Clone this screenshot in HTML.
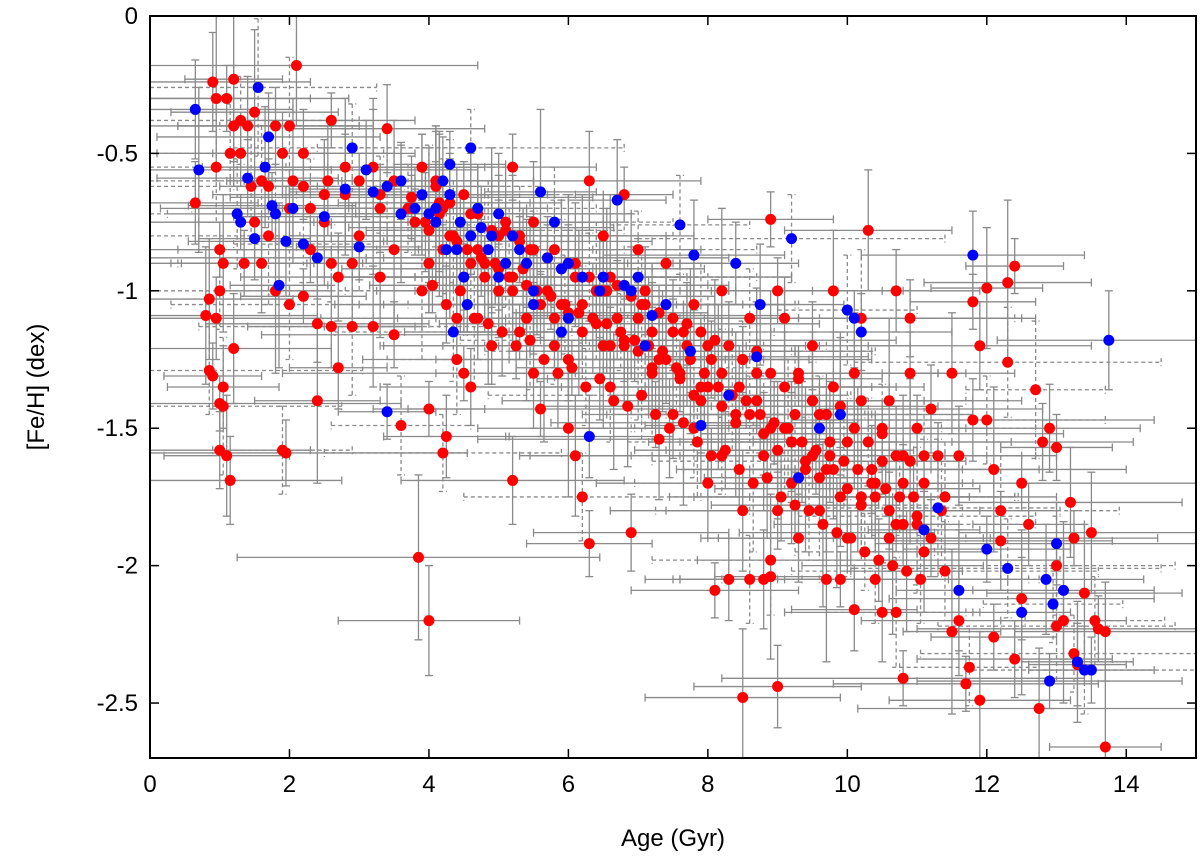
<!DOCTYPE html>
<html><head><meta charset="utf-8"><style>
html,body{margin:0;padding:0;background:#fff;}
svg{display:block;font-family:"Liberation Sans",sans-serif;}
</style></head><body>
<svg id="chart" width="1200" height="860">
<g id="errs"></g>
<g id="red"></g>
<g id="blue"></g>
<g id="axes"></g>
</svg>
<script>
const xTicks=[0,2,4,6,8,10,12,14];
const yTicks=[0,-0.5,-1,-1.5,-2,-2.5];
const yTickLabels=["0","-0.5","-1","-1.5","-2","-2.5"];
const redAge=[0.65,0.8,0.85,0.85,0.9,0.9,0.95,0.95,1.0,1.0,1.05,1.05,1.1,1.15,1.1,1.15,1.2,1.2,1.0,1.0,0.95,1.05,1.2,1.3,1.35,1.4,1.5,1.6,1.7,1.8,1.9,2.0,2.1,2.2,2.2,2.3,2.4,2.5,2.6,2.6,2.7,2.8,2.9,1.9,1.95,1.6,1.8,2.0,2.2,2.4,2.6,2.9,3.2,3.4,3.5,3.6,3.85,4.0,4.0,4.2,4.25,3.2,3.5,3.7,3.9,4.1,4.3,4.4,4.5,4.6,4.7,4.8,5.0,5.2,5.2,5.3,5.4,5.5,5.6,5.8,5.9,6.0,6.1,6.2,6.3,6.3,6.5,6.6,6.8,6.9,7.0,7.2,7.3,7.5,7.6,7.8,7.9,8.0,8.1,8.2,8.3,8.5,8.5,8.6,8.7,8.8,8.9,8.9,8.9,9.0,9.0,9.1,9.2,9.3,9.5,9.6,9.7,9.8,9.9,10.0,10.1,10.2,10.3,10.4,10.5,10.5,10.6,10.7,10.8,10.8,10.9,11.0,11.1,11.2,11.3,11.4,11.5,11.6,11.7,11.75,11.8,11.9,12.0,12.0,12.1,12.2,12.3,12.3,12.4,12.4,12.5,12.7,12.75,12.9,13.0,13.0,13.1,13.2,13.25,13.25,13.3,13.4,13.5,13.55,13.6,13.7,13.7,13.0,11.8,10.9,10.7,10.2,9.8,9.5,9.0,8.6,8.2,7.8,7.4,7.0,6.5,6.0,5.5,5.0,4.5,4.0,3.5,3.0,2.5,2.0,1.5,1.7,2.8,3.3,3.8,4.2,4.7,5.2,5.7,6.2,6.7,7.2,7.7,8.2,8.7,9.2,9.7,10.2,10.7,11.2,6.0,6.4,6.8,7.1,7.5,8.0,8.4,8.8,9.3,9.6,10.0,10.4,10.8,11.1,10.6,9.9,9.4,8.9,5.3,4.9,4.4,3.9,3.3,2.7,2.3,5.8,6.6,7.3,7.9,8.5,9.1,9.5,10.1,10.5,11.0,11.6,12.1,11.4,12.5,12.8,12.6,12.2,11.5,11.9,1.3,1.45,2.05,2.55,3.0,3.3,3.75,4.15,4.6,5.1,5.45,6.1,6.55,7.05,7.65,8.05,8.45,9.25,9.75,10.35,10.95,11.35,
4.0,4.2,4.4,4.6,4.8,5.0,5.2,5.4,5.6,5.8,6.0,6.2,6.4,6.6,6.8,7.0,7.2,7.4,7.6,7.8,8.0,8.2,8.4,8.6,8.8,9.0,9.2,9.4,9.6,9.8,10.0,10.2,10.4,10.6,10.8,11.0,
4.1,4.3,4.5,4.7,4.9,5.1,5.3,5.5,5.7,5.9,6.1,6.3,6.5,6.7,6.9,7.1,7.3,7.5,7.7,7.9,8.1,8.3,8.5,8.7,8.9,9.1,9.3,9.5,9.7,9.9,10.1,10.3,10.5,10.7,10.9,11.1,
4.05,4.25,4.45,4.65,4.85,5.05,5.25,5.45,5.65,5.85,6.05,6.25,6.45,6.65,6.85,7.05,7.25,7.45,7.65,7.85,8.05,8.25,8.45,8.65,8.85,9.05,9.25,9.45,9.65,9.85,10.05,10.25,10.45,10.65,10.85,11.05,
3.75,3.95,4.15,4.35,4.55,4.75,4.95,5.15,5.35,5.55,5.75,5.95,6.15,6.35,6.55,6.75,6.95,7.15,7.35,7.55,7.75,7.95,8.15,8.35,8.55,8.75,8.95,9.15,9.35,9.55,9.75,9.95,10.15,10.35,10.55,10.75];
const redFeh=[-0.68,-1.09,-1.03,-1.29,-1.31,-0.24,-0.3,-0.55,-1.41,-1.58,-1.35,-1.42,-1.6,-1.69,-0.3,-0.5,-0.23,-1.21,-0.85,-1.0,-1.1,-0.9,-0.4,-0.38,-0.9,-0.4,-0.35,-0.6,-0.62,-0.4,-0.5,-0.4,-0.18,-0.5,-0.62,-0.7,-1.4,-0.65,-0.38,-0.9,-1.28,-0.55,-0.9,-1.58,-1.59,-0.9,-1.0,-1.05,-1.02,-1.12,-1.13,-1.13,-1.13,-0.41,-1.16,-1.49,-1.97,-2.2,-1.43,-1.59,-1.53,-0.55,-0.6,-0.7,-0.55,-0.6,-0.8,-1.25,-1.3,-1.35,-1.1,-0.9,-0.8,-1.69,-0.55,-0.8,-1.1,-1.3,-1.43,-1.2,-1.05,-1.5,-1.6,-1.75,-1.92,-0.6,-1.2,-1.35,-0.65,-1.88,-1.1,-1.3,-1.54,-1.45,-1.3,-1.5,-1.4,-1.7,-2.09,-1.6,-2.05,-2.48,-1.8,-2.05,-1.3,-2.05,-2.04,-1.98,-0.74,-1.8,-2.44,-1.5,-1.7,-1.9,-1.6,-1.8,-2.05,-1.35,-2.05,-1.9,-2.16,-1.4,-0.78,-2.05,-1.62,-2.17,-1.4,-2.17,-2.41,-1.7,-1.3,-1.85,-1.95,-1.43,-1.6,-2.02,-2.24,-2.2,-2.43,-2.37,-1.47,-2.49,-0.99,-1.47,-2.26,-1.91,-0.97,-1.26,-0.91,-2.34,-2.12,-1.36,-2.52,-1.5,-1.57,-2.0,-2.2,-1.77,-1.9,-2.32,-2.36,-2.1,-1.88,-2.2,-2.23,-2.24,-2.66,-2.22,-1.04,-1.1,-1.0,-1.1,-1.0,-1.2,-1.0,-1.1,-1.0,-1.05,-0.9,-0.85,-0.8,-0.9,-0.75,-1.0,-0.95,-0.9,-0.85,-0.8,-0.75,-0.7,-0.75,-0.8,-0.65,-0.7,-0.75,-0.7,-0.85,-0.95,-1.0,-1.05,-1.1,-1.15,-1.2,-1.3,-1.4,-1.55,-1.65,-1.75,-1.85,-1.9,-1.25,-1.0,-1.2,-1.0,-1.15,-1.2,-1.45,-1.6,-1.3,-1.45,-1.55,-1.7,-1.6,-1.7,-1.9,-1.75,-1.65,-1.5,-1.15,-1.2,-1.1,-1.0,-0.95,-0.95,-0.85,-0.85,-0.95,-1.25,-1.35,-1.25,-1.1,-1.4,-1.3,-1.5,-1.5,-1.6,-1.65,-1.75,-1.7,-1.55,-1.85,-1.8,-1.3,-1.2,-0.5,-0.62,-0.6,-0.6,-0.6,-0.65,-0.66,-0.68,-0.72,-0.78,-0.85,-0.95,-1.0,-1.05,-1.15,-1.25,-1.35,-1.45,-1.55,-1.65,-1.75,-1.8,
-0.78,-0.85,-0.82,-0.9,-0.95,-0.92,-1.0,-0.98,-1.05,-1.1,-1.08,-1.15,-1.12,-1.2,-1.18,-1.22,-1.28,-1.25,-1.32,-1.38,-1.35,-1.42,-1.48,-1.45,-1.52,-1.58,-1.55,-1.62,-1.68,-1.65,-1.72,-1.78,-1.75,-1.8,-1.85,-1.82,
-0.62,-0.68,-0.65,-0.72,-0.78,-0.75,-0.82,-0.85,-0.88,-0.92,-0.9,-0.95,-1.0,-0.98,-1.02,-1.05,-1.08,-1.1,-1.12,-1.15,-1.18,-1.2,-1.25,-1.22,-1.3,-1.35,-1.32,-1.4,-1.45,-1.42,-1.5,-1.55,-1.52,-1.6,-1.62,-1.6,
-0.98,-1.05,-1.0,-1.1,-1.12,-1.15,-1.2,-1.18,-1.25,-1.3,-1.28,-1.35,-1.32,-1.4,-1.42,-1.38,-1.45,-1.5,-1.48,-1.55,-1.6,-1.58,-1.65,-1.7,-1.68,-1.75,-1.78,-1.8,-1.85,-1.88,-1.9,-1.95,-1.98,-2.0,-2.02,-2.05,
-0.7,-0.75,-0.72,-0.8,-0.85,-0.88,-0.9,-0.95,-0.92,-1.0,-1.02,-1.05,-1.08,-1.1,-1.12,-1.15,-1.18,-1.2,-1.22,-1.28,-1.25,-1.3,-1.35,-1.38,-1.4,-1.45,-1.48,-1.5,-1.55,-1.58,-1.6,-1.62,-1.65,-1.7,-1.72,-1.75];
const blueAge=[0.65,0.7,1.25,1.3,1.4,1.5,1.55,1.65,1.7,1.75,1.8,1.85,1.95,2.05,2.2,2.4,2.5,2.8,2.9,3.0,3.1,3.2,3.4,3.4,3.6,3.8,4.0,4.1,4.2,4.3,4.35,4.4,4.5,4.55,4.6,4.7,4.9,5.0,5.1,5.3,5.5,5.6,5.8,5.9,6.0,6.3,6.5,6.7,6.9,7.2,7.6,7.75,7.8,7.9,8.3,8.4,8.7,8.75,9.2,9.3,9.6,9.9,10.0,10.1,10.2,11.1,11.3,11.6,11.8,12.0,12.3,12.5,12.85,12.9,12.95,13.0,13.1,13.3,13.4,13.5,13.75,
4.1,4.3,4.45,4.6,4.75,4.85,5.2,5.4,5.7,5.9,6.2,6.45,6.8,7.0,7.4,3.6,3.9,4.25,5.0,5.5,6.0,7.1];
const blueFeh=[-0.34,-0.56,-0.72,-0.75,-0.59,-0.81,-0.26,-0.55,-0.44,-0.69,-0.72,-0.98,-0.82,-0.7,-0.83,-0.88,-0.73,-0.63,-0.48,-0.84,-0.56,-0.64,-0.62,-1.44,-0.6,-0.7,-0.72,-0.75,-0.6,-0.54,-1.15,-0.85,-0.95,-1.05,-0.48,-0.7,-0.8,-0.72,-0.9,-0.85,-1.0,-0.64,-0.75,-1.15,-0.9,-1.53,-0.95,-0.67,-1.0,-1.09,-0.76,-1.22,-0.87,-1.49,-1.38,-0.9,-1.24,-1.05,-0.81,-1.68,-1.5,-1.45,-1.07,-1.1,-1.15,-1.87,-1.79,-2.09,-0.87,-1.94,-2.01,-2.17,-2.05,-2.42,-2.14,-1.92,-2.09,-2.35,-2.38,-2.38,-1.18,
-0.7,-0.65,-0.75,-0.8,-0.77,-0.85,-0.8,-0.9,-0.88,-0.92,-0.95,-1.0,-0.98,-0.95,-1.05,-0.72,-0.65,-0.85,-0.95,-1.05,-1.1,-1.2];
const ageErrSizes=[0.9,1.6,1.2,2.2,0.7,1.4,1.9,1.0,2.6,1.3,0.8,1.7];
const fehErrSizes=[0.15,0.2,0.12,0.25,0.1,0.18,0.22,0.14,0.3,0.16];

const X0=150,X1=1196,XMAX=15,Y0=16,Y1=758,YMIN=-2.7;
const xs=v=>X0+(v/XMAX)*(X1-X0);
const ys=v=>Y0+(v/YMIN)*(Y1-Y0);
const NS="http://www.w3.org/2000/svg";
function mk(tag,attrs,parent){const e=document.createElementNS(NS,tag);for(const k in attrs)e.setAttribute(k,attrs[k]);parent.appendChild(e);return e;}
const errs=document.getElementById('errs');
function drawErr(a,f,i){
  const ea=ageErrSizes[i%ageErrSizes.length],ef=fehErrSizes[(i*3)%fehErrSizes.length];
  const cx=xs(a),cy=ys(f);
  const xl=Math.max(X0,xs(a-ea)),xr=Math.min(X1,xs(a+ea));
  const yt=Math.max(Y0,ys(f+ef)),yb=Math.min(Y1,ys(f-ef));
  const dash=(i%4===3)?'4,3':'none';
  const g=mk('g',{stroke:'#8a8a8a','stroke-width':1.3,fill:'none','stroke-dasharray':dash},errs);
  
  
  mk('line',{x1:xl,y1:cy,x2:xr,y2:cy},g);
  mk('line',{x1:cx,y1:yt,x2:cx,y2:yb},g);
  mk('line',{x1:xl,y1:cy-4,x2:xl,y2:cy+4},g);
  mk('line',{x1:xr,y1:cy-4,x2:xr,y2:cy+4},g);
  mk('line',{x1:cx-4,y1:yt,x2:cx+4,y2:yt},g);
  mk('line',{x1:cx-4,y1:yb,x2:cx+4,y2:yb},g);
}
redAge.forEach((a,i)=>drawErr(a,redFeh[i],i));
blueAge.forEach((a,i)=>drawErr(a,blueFeh[i],i+5));
const red=document.getElementById('red'),blue=document.getElementById('blue');
redAge.forEach((a,i)=>{const c=mk('circle',{cx:xs(a),cy:ys(redFeh[i]),r:5.5,fill:'#f00'},red);
  
  });
blueAge.forEach((a,i)=>{const c=mk('circle',{cx:xs(a),cy:ys(blueFeh[i]),r:5.5,fill:'#00f'},blue);
  
  });
const ax=document.getElementById('axes');
const fr=mk('rect',{x:X0,y:Y0,width:X1-X0,height:Y1-Y0,fill:'none',stroke:'#000','stroke-width':2},ax);


xTicks.forEach(t=>{const x=xs(t);
  mk('line',{x1:x,y1:Y1,x2:x,y2:Y1-9,stroke:'#000','stroke-width':1.5},ax);
  mk('line',{x1:x,y1:Y0,x2:x,y2:Y0+9,stroke:'#000','stroke-width':1.5},ax);
  const tx=mk('text',{x:x,y:Y1+34,'text-anchor':'middle','font-size':24},ax);tx.textContent=t;
  
  });
yTicks.forEach((t,i)=>{const y=ys(t);
  mk('line',{x1:X0,y1:y,x2:X0+9,y2:y,stroke:'#000','stroke-width':1.5},ax);
  mk('line',{x1:X1,y1:y,x2:X1-9,y2:y,stroke:'#000','stroke-width':1.5},ax);
  const tx=mk('text',{x:X0-12,y:y+8,'text-anchor':'end','font-size':24},ax);tx.textContent=yTickLabels[i];
  
  });
const xl=mk('text',{x:(X0+X1)/2,y:846,'text-anchor':'middle','font-size':24},ax);xl.textContent='Age (Gyr)';


const yl=mk('text',{x:0,y:0,'text-anchor':'middle','font-size':24,transform:'translate(44,'+((Y0+Y1)/2)+') rotate(-90)'},ax);yl.textContent='[Fe/H] (dex)';


</script>
</body></html>
